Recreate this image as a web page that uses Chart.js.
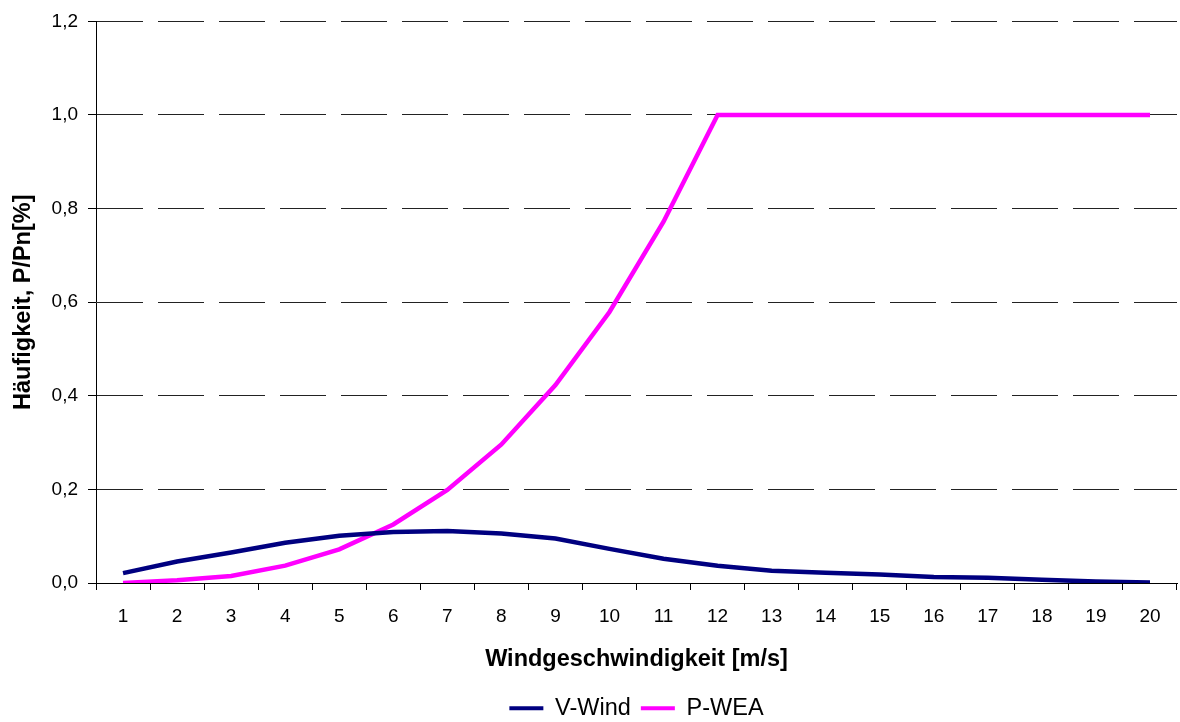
<!DOCTYPE html>
<html>
<head>
<meta charset="utf-8">
<script src="https://cdn.jsdelivr.net/npm/chart.js@4"></script>
<style>
  body { margin: 0; background: #fff; }
  canvas { display: block; }
</style>
</head>
<body>
<canvas id="windChart" width="1180" height="722"></canvas>
<script>
// Windgeschwindigkeit (m/s)
const speeds = ['1', '2', '3', '4', '5', '6', '7', '8', '9', '10',
  '11', '12', '13', '14', '15', '16', '17', '18', '19', '20'];

// Häufigkeit der Windgeschwindigkeit
const vWind = [0.021, 0.046, 0.065, 0.086, 0.101, 0.109, 0.111, 0.106, 0.095, 0.073,
  0.052, 0.037, 0.026, 0.022, 0.018, 0.013, 0.011, 0.007, 0.003, 0.001];

// Leistungskurve P/Pn
const pWea = [0.0, 0.006, 0.015, 0.037, 0.072, 0.125, 0.199, 0.296, 0.423, 0.579,
  0.772, 1.0, 1.0, 1.0, 1.0, 1.0, 1.0, 1.0, 1.0, 1.0];

const yTicks = [0, 0.2, 0.4, 0.6, 0.8, 1.0, 1.2];

const font = 'Arial, "Liberation Sans", sans-serif';
const canvas = document.getElementById('windChart');

new Chart(canvas.getContext('2d'), {
  type: 'line',
  data: {
    labels: speeds,
    datasets: [
      {
        label: 'V-Wind',
        data: vWind,
        borderColor: '#000080',
        backgroundColor: '#000080',
        borderWidth: 4.5,
        pointRadius: 0,
        tension: 0,
      },
      {
        label: 'P-WEA',
        data: pWea,
        borderColor: '#ff00ff',
        backgroundColor: '#ff00ff',
        borderWidth: 4.5,
        pointRadius: 0,
        tension: 0,
      },
    ],
  },
  options: {
    responsive: false,
    animation: false,
    layout: {
      // negative bottom padding pulls the legend down to the reference spot
      padding: { top: 21, right: 3, left: 0, bottom: -8 },
    },
    plugins: {
      tooltip: { enabled: false },
      legend: {
        position: 'bottom',
        fullSize: false,
        labels: {
          color: '#000',
          font: { family: font, size: 23.5 },
          boxWidth: 34,
          boxHeight: 4,
          padding: 10,
          generateLabels: (chart) => chart.data.datasets.map((ds, i) => ({
            text: ds.label,
            fillStyle: ds.borderColor,
            strokeStyle: ds.borderColor,
            lineWidth: 0,
            datasetIndex: i,
          })),
        },
      },
    },
    scales: {
      x: {
        offset: true,
        grid: {
          offset: true,
          drawOnChartArea: false,
          drawTicks: true,
          tickLength: 7,
          color: '#000',
        },
        border: { display: true, color: '#000', width: 1 },
        ticks: {
          color: '#000',
          font: { family: font, size: 19 },
          padding: 15.5,
          maxRotation: 0,
          autoSkip: false,
        },
        title: {
          display: true,
          text: 'Windgeschwindigkeit [m/s]',
          color: '#000',
          font: { family: font, size: 23.5, weight: 'bold' },
          padding: { top: 4, bottom: 12.4 },
        },
        afterFit: (scale) => { scale.height = 103.5; },
      },
      y: {
        min: 0,
        max: 1.2,
        afterBuildTicks: (scale) => { scale.ticks = yTicks.map(v => ({ value: v })); },
        grid: {
          color: '#222',
          lineWidth: 1,
          tickLength: 8,
          tickColor: '#000',
        },
        border: { display: true, color: '#000', width: 1, dash: [46, 15] },
        ticks: {
          color: '#000',
          font: { family: font, size: 19 },
          padding: 10,
          callback: (v) => Number(v).toFixed(1).replace('.', ','),
        },
        title: {
          display: true,
          text: 'Häufigkeit, P/Pn[%]',
          color: '#000',
          font: { family: font, size: 23.5, weight: 'bold' },
          padding: { top: 9, bottom: 4 },
        },
        afterFit: (scale) => { scale.width = 96; },
      },
    },
  },
});
</script>
</body>
</html>
